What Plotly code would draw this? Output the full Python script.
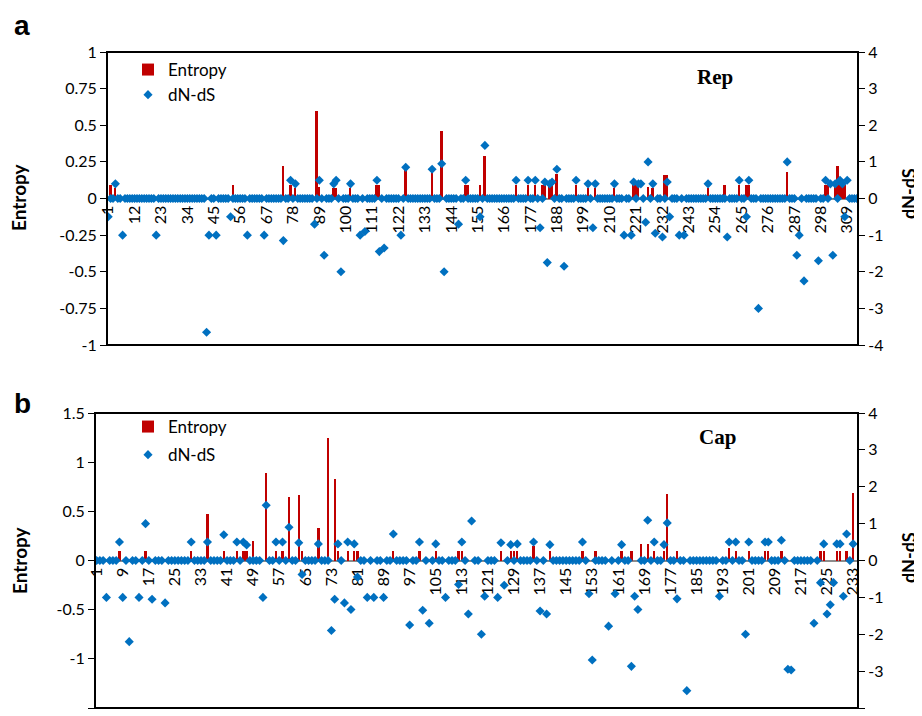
import plotly.graph_objects as go

# ---------------- data ----------------
rep_length = 313
rep_ticks = [1, 12, 23, 34, 45, 56, 67, 78, 89, 100, 111, 122, 133, 144, 155,
             166, 177, 188, 199, 210, 221, 232, 243, 254, 265, 276, 287, 298, 309]

rep_entropy_pos = [2, 4, 53, 74, 77, 79, 88, 89, 95, 96, 102, 113, 114, 125, 136,
                   140, 150, 151, 156, 158, 171, 176, 179, 182, 183, 185, 186, 188,
                   196, 201, 204, 212, 220, 221, 222, 226, 228, 233, 234, 251, 258,
                   264, 267, 268, 284, 300, 301, 304, 305, 306, 307, 308]
rep_entropy_val = [0.09, 0.07, 0.09, 0.22, 0.09, 0.07, 0.60, 0.08, 0.07, 0.07, 0.07,
                   0.09, 0.09, 0.21, 0.20, 0.46, 0.09, 0.09, 0.09, 0.29, 0.09, 0.09,
                   0.09, 0.09, 0.09, 0.09, 0.09, 0.17, 0.09, 0.07, 0.07, 0.07, 0.09,
                   0.09, 0.09, 0.08, 0.07, 0.16, 0.16, 0.07, 0.09, 0.09, 0.09, 0.09,
                   0.18, 0.09, 0.09, 0.09, 0.22, 0.09, 0.09, 0.09]

rep_dnds_pos = [1, 4, 7, 21, 42, 43, 46, 52, 59, 66, 74, 77, 79, 87, 89, 91, 95, 96,
                98, 102, 106, 108, 113, 114, 116, 123, 125, 136, 140, 141, 147, 150,
                156, 158, 171, 176, 179, 181, 183, 184, 185, 186, 188, 191, 196, 201,
                203, 204, 212, 216, 219, 220, 222, 223, 225, 226, 228, 229, 232, 234,
                235, 239, 241, 251, 259, 264, 267, 268, 272, 284, 288, 289, 291, 297,
                300, 302, 303, 304, 306, 307, 308, 309]
rep_dnds_val = [-0.5, 0.4, -1.0, -1.0, -3.65, -1.0, -1.0, -0.5, -1.0, -1.0, -1.15, 0.5,
                0.4, -0.7, 0.5, -1.55, 0.4, 0.5, -2.0, 0.4, -1.0, -0.9, 0.5, -1.45,
                -1.35, -1.0, 0.85, 0.8, 0.95, -2.0, -0.7, 0.5, -0.5, 1.45, 0.5, 0.5,
                0.5, -0.8, 0.45, -1.75, 0.4, 0.45, 0.8, -1.85, 0.5, 0.4, -0.8, 0.4,
                0.4, -1.0, -1.0, 0.45, 0.4, 0.4, -0.65, 1.0, 0.4, -0.95, -1.05, 0.45,
                -0.5, -1.0, -1.0, 0.4, -1.05, 0.5, -0.5, 0.5, -3.0, 1.0, -1.55, -1.0,
                -2.25, -1.7, 0.5, 0.4, -1.55, 0.4, 0.5, 0.4, -0.5, 0.5]

cap_length = 234
cap_last_data = 233
cap_ticks = [1, 9, 17, 25, 33, 41, 49, 57, 65, 73, 81, 89, 97, 105, 113, 121, 129,
             137, 145, 153, 161, 169, 177, 185, 193, 201, 209, 217, 225, 233]

cap_entropy_pos = [8, 16, 30, 35, 40, 44, 46, 47, 49, 53, 56, 58, 60, 63, 64, 69, 72,
                   74, 75, 78, 80, 81, 92, 100, 105, 112, 113, 125, 128, 129, 130,
                   135, 140, 150, 154, 162, 165, 168, 170, 172, 175, 176, 179, 195,
                   197, 201, 206, 207, 211, 223, 224, 228, 229, 231, 233]
cap_entropy_val = [0.1, 0.1, 0.1, 0.47, 0.1, 0.1, 0.1, 0.1, 0.2, 0.89, 0.1, 0.1, 0.65,
                   0.67, 0.1, 0.33, 1.25, 0.83, 0.1, 0.1, 0.1, 0.1, 0.1, 0.1, 0.1,
                   0.1, 0.1, 0.1, 0.1, 0.1, 0.1, 0.15, 0.1, 0.1, 0.1, 0.1, 0.1, 0.17,
                   0.17, 0.1, 0.1, 0.68, 0.1, 0.13, 0.1, 0.1, 0.1, 0.1, 0.1, 0.1, 0.1,
                   0.1, 0.1, 0.1, 0.69]

cap_dnds_pos = [4, 8, 9, 11, 14, 16, 18, 22, 30, 35, 40, 44, 46, 47, 52, 53, 56, 58,
                60, 63, 64, 69, 73, 74, 75, 77, 78, 79, 80, 81, 84, 86, 89, 92, 97,
                100, 101, 103, 105, 108, 112, 113, 115, 116, 119, 120, 124, 125, 126,
                128, 130, 135, 137, 139, 140, 150, 152, 153, 158, 160, 162, 165, 166,
                167, 170, 172, 175, 176, 179, 182, 192, 195, 197, 200, 201, 206, 207,
                211, 213, 214, 221, 223, 224, 225, 226, 227, 228, 229, 230, 231, 233]
cap_dnds_val = [-1.0, 0.5, -1.0, -2.2, -1.0, 1.0, -1.05, -1.15, 0.5, 0.5, 0.7, 0.5,
                0.5, 0.42, -1.0, 1.5, 0.5, 0.5, 0.9, 0.48, -0.38, 0.45, -1.9, -1.05,
                0.45, -1.15, 0.5, -1.33, 0.45, -0.45, -1.0, -1.0, -1.0, 0.72, -1.75,
                0.5, -1.35, -1.7, 0.45, -1.0, -0.65, 0.5, -1.45, 1.07, -2.0, -0.97,
                -1.0, 0.48, -0.67, 0.43, 0.45, 0.5, -1.37, -1.45, 0.43, 0.5, -0.9,
                -2.7, -1.78, -0.9, 0.43, -2.87, -0.97, -1.33, 1.09, 0.5, 0.43, 1.02,
                -1.04, -3.53, -0.97, 0.5, 0.5, -2.0, 0.5, 0.5, 0.5, 0.55, -2.95,
                -2.97, -1.7, -0.6, 0.45, -1.45, -1.2, -0.6, 0.45, 0.45, -0.97, 0.72,
                0.45]

# ---------------- styling ----------------
RED = "#C00000"
BLUE = "#0070C0"
FONT = "Lato"
OFF = 8                      # page body margin in the browser
W, H = 922 - OFF, 716 - OFF  # figure size


def full_series(n, pos, val):
    d = dict(zip(pos, val))
    xs = list(range(1, n + 1))
    return xs, [d.get(p, 0.0) for p in xs]


rep_x, rep_ent = full_series(rep_length, rep_entropy_pos, rep_entropy_val)
_, rep_dn = full_series(rep_length, rep_dnds_pos, rep_dnds_val)
cap_x, cap_ent = full_series(cap_last_data, cap_entropy_pos, cap_entropy_val)
_, cap_dn = full_series(cap_last_data, cap_dnds_pos, cap_dnds_val)


# positions given in screenshot pixels; converted to paper fractions
def px(x):
    return (x - OFF) / W


def py(y):
    return 1 - (y - OFF) / H


A = dict(l=107, r=858, t=52, b=345)
B = dict(l=95, r=858, t=413, b=708)


def xdom(p):
    return [px(p["l"]), px(p["r"])]


def ydom(p):
    return [py(p["b"]), py(p["t"])]


fig = go.Figure()

fig.add_trace(go.Bar(x=rep_x, y=rep_ent, xaxis="x", yaxis="y", width=0.8,
                     marker=dict(color=RED, line=dict(width=0)), name="Entropy",
                     legend="legend", legendgroup="a1"))
fig.add_trace(go.Scatter(x=rep_x, y=rep_dn, xaxis="x", yaxis="y2", mode="markers",
                         marker=dict(symbol="diamond", size=7, color=BLUE),
                         name="dN-dS", legend="legend", legendgroup="a2"))
fig.add_trace(go.Bar(x=cap_x, y=cap_ent, xaxis="x2", yaxis="y3", width=0.7,
                     marker=dict(color=RED, line=dict(width=0)), name="Entropy",
                     legend="legend2", legendgroup="b1"))
fig.add_trace(go.Scatter(x=cap_x, y=cap_dn, xaxis="x2", yaxis="y4", mode="markers",
                         marker=dict(symbol="diamond", size=7, color=BLUE),
                         name="dN-dS", legend="legend2", legendgroup="b2"))

tickfont = dict(family=FONT, size=16, color="black")


def fmt(v):
    return "%g" % v


xcommon = dict(tickangle=-90, tickfont=tickfont, showgrid=False, zeroline=False,
               showline=True, linecolor="#8c8c8c", linewidth=1.5, ticks="",
               layer="below traces", anchor="free", automargin=False)
ycommon = dict(showgrid=False, zeroline=False, showline=False, ticks="outside",
               ticklen=6, tickwidth=1.3, tickcolor="black", tickfont=tickfont,
               automargin=False)

yA = ydom(A)
yB = ydom(B)
ent_a = [-1, -0.75, -0.5, -0.25, 0, 0.25, 0.5, 0.75, 1]
ent_b = [-1.5, -1, -0.5, 0, 0.5, 1, 1.5]
dn_t = [-4, -3, -2, -1, 0, 1, 2, 3, 4]
legfont = dict(family=FONT, size=17, color="black")

fig.update_layout(
    width=W, height=H, autosize=False, template="none",
    margin=dict(l=0, r=0, t=0, b=0, pad=0),
    paper_bgcolor="white", plot_bgcolor="white",
    bargap=0, barmode="overlay",
    xaxis=dict(domain=xdom(A), range=[0.5, rep_length + 0.5],
               tickvals=rep_ticks, ticktext=[str(t) for t in rep_ticks],
               position=(yA[0] + yA[1]) / 2, **xcommon),
    yaxis=dict(domain=yA, anchor="x", range=[-1, 1], tickvals=ent_a,
               ticktext=[fmt(v) for v in ent_a], **ycommon),
    yaxis2=dict(anchor="x", overlaying="y", side="right", range=[-4, 4],
                tickvals=dn_t, ticktext=[fmt(v) for v in dn_t], **ycommon),
    xaxis2=dict(domain=xdom(B), range=[0.5, cap_length + 0.5],
                tickvals=cap_ticks, ticktext=[str(t) for t in cap_ticks],
                position=(yB[0] + yB[1]) / 2, **xcommon),
    yaxis3=dict(domain=yB, anchor="x2", range=[-1.5, 1.5], tickvals=ent_b,
                ticktext=[fmt(v) for v in ent_b], **ycommon),
    yaxis4=dict(anchor="x2", overlaying="y3", side="right", range=[-4, 4],
                tickvals=dn_t, ticktext=[fmt(v) for v in dn_t], **ycommon),
    legend=dict(x=px(128), y=py(52), xanchor="left", yanchor="top",
                bgcolor="rgba(0,0,0,0)", font=legfont, tracegroupgap=0),
    legend2=dict(x=px(128), y=py(409), xanchor="left", yanchor="top",
                 bgcolor="rgba(0,0,0,0)", font=legfont, tracegroupgap=3),
    showlegend=True,
)

# plot-area frames
for xr, yr in (("x", "y"), ("x2", "y3")):
    fig.add_shape(type="rect", xref=f"{xr} domain", yref=f"{yr} domain",
                  x0=0, x1=1, y0=0, y1=1, line=dict(color="black", width=2),
                  fillcolor="rgba(0,0,0,0)", layer="above")

ann = []
ann.append(dict(text="<b>a</b>", x=px(12), y=1.0, xref="paper", yref="paper",
                xanchor="left", yanchor="top", showarrow=False,
                font=dict(family="Liberation Sans", size=28, color="black")))
ann.append(dict(text="<b>b</b>", x=px(12), y=py(386), xref="paper", yref="paper",
                xanchor="left", yanchor="top", showarrow=False,
                font=dict(family="Liberation Sans", size=28, color="black")))
ann.append(dict(text="<b>Rep</b>", x=px(715), y=py(77), xref="paper", yref="paper",
                xanchor="center", yanchor="middle", showarrow=False,
                font=dict(family="Liberation Serif", size=21, color="black")))
ann.append(dict(text="<b>Cap</b>", x=px(717), y=py(437), xref="paper", yref="paper",
                xanchor="center", yanchor="middle", showarrow=False,
                font=dict(family="Liberation Serif", size=21, color="black")))
for yc_l, yc_r in ((197, 194), (560, 558)):
    ann.append(dict(text="<b>Entropy</b>", x=px(19), y=py(yc_l), xref="paper",
                    yref="paper", xanchor="center", yanchor="middle", textangle=-90,
                    showarrow=False, font=dict(family=FONT, size=19, color="black")))
    ann.append(dict(text="<b>dN-dS</b>", x=px(909), y=py(yc_r), xref="paper",
                    yref="paper", xanchor="center", yanchor="middle", textangle=-90,
                    showarrow=False, font=dict(family=FONT, size=18, color="black")))
fig.update_layout(annotations=ann)

fig.write_html("out.html")
